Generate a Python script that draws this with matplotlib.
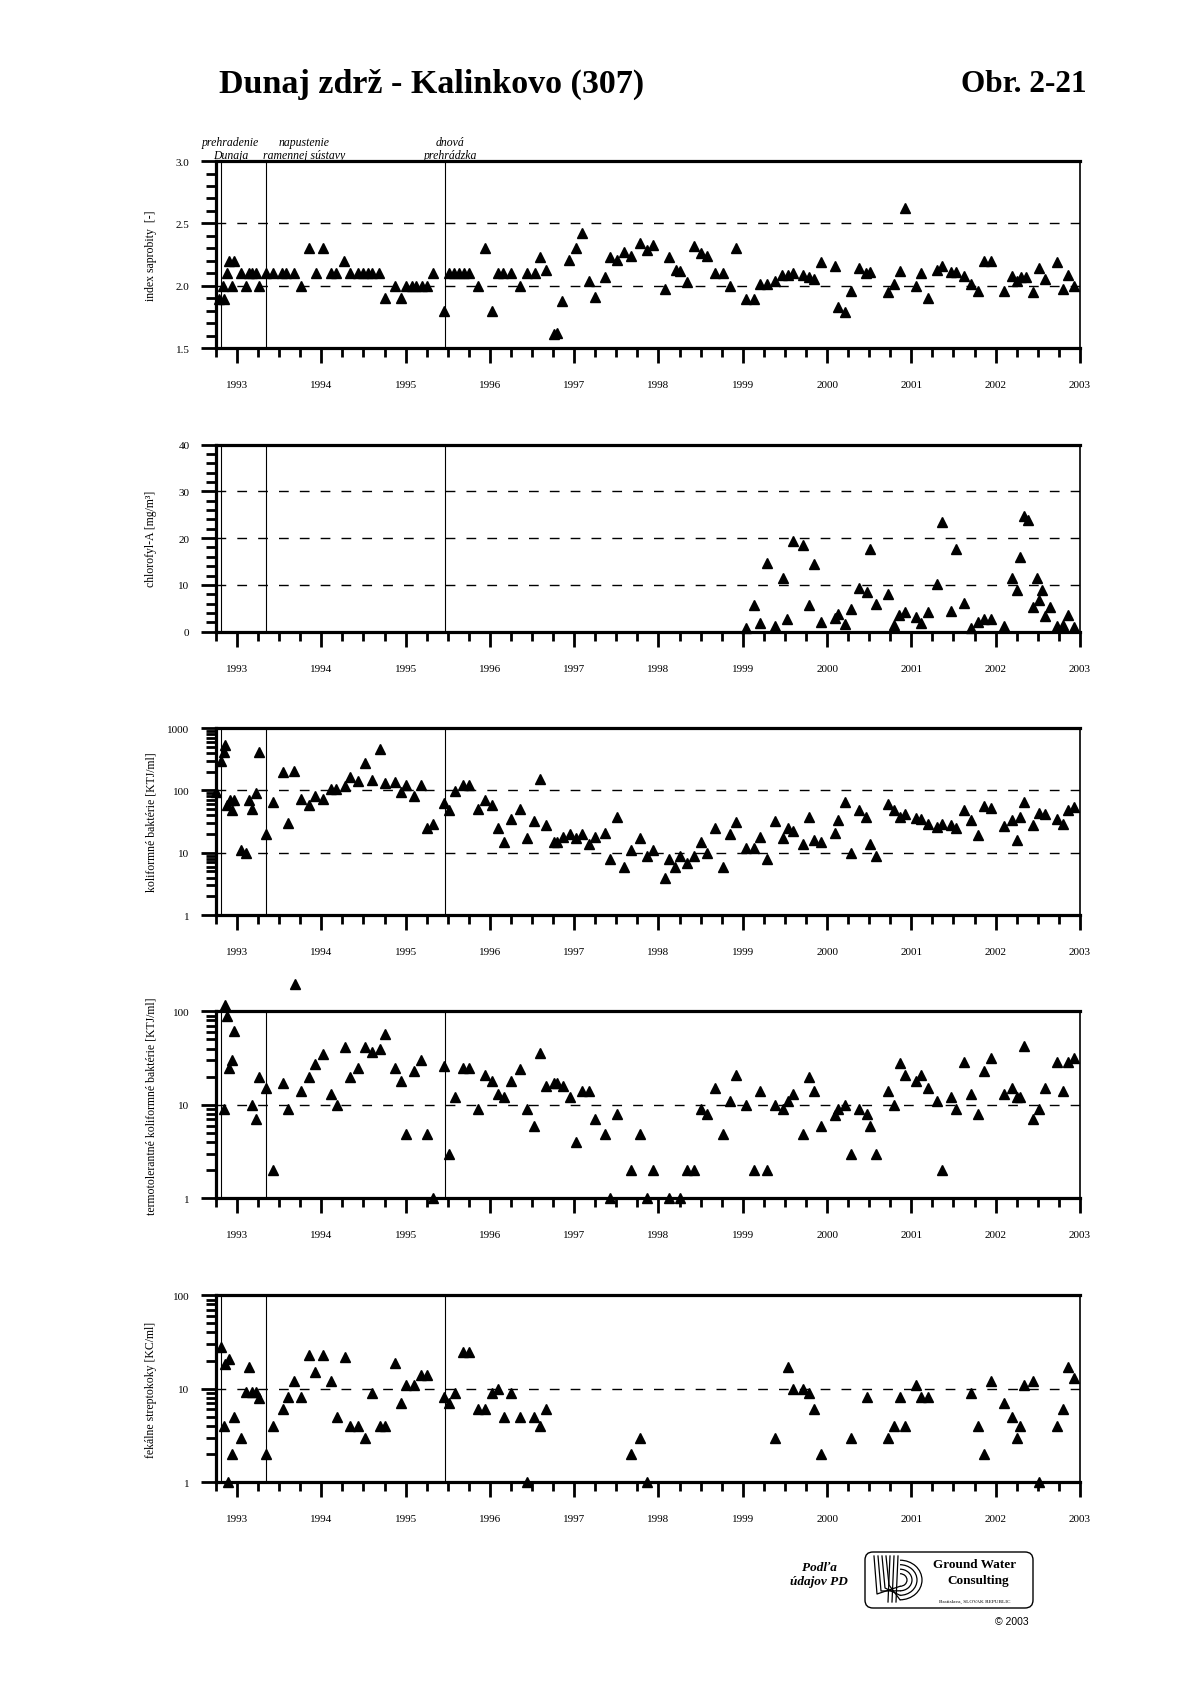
import matplotlib
matplotlib.use("Agg")
import matplotlib.pyplot as plt
from matplotlib.ticker import LogLocator, NullFormatter
from matplotlib.patches import FancyBboxPatch, Arc

plt.rcParams['font.family'] = ['Liberation Serif', 'DejaVu Serif']

# --- data (decimal years) -------------------------------------------------
years = list(range(1993, 2004))
events = [1992.81, 1993.34, 1995.47]
event_texts = ["prehradenie\nDunaja", "napustenie\nramennej sústavy", "dnová\nprehrádzka"]

sap_x = [1992.79, 1992.85, 1992.83, 1992.88, 1992.90, 1992.96, 1992.94, 1993.05, 1993.11, 1993.14,
         1993.18, 1993.23, 1993.26, 1993.34, 1993.43, 1993.53, 1993.58, 1993.68, 1993.76, 1993.85,
         1993.94, 1994.02, 1994.12, 1994.17, 1994.27, 1994.34, 1994.44, 1994.49, 1994.55, 1994.60,
         1994.68, 1994.75, 1994.87, 1994.94, 1995.00, 1995.07, 1995.12, 1995.19, 1995.25, 1995.33,
         1995.45, 1995.52, 1995.57, 1995.63, 1995.69, 1995.75, 1995.86, 1995.94, 1996.02, 1996.10,
         1996.15, 1996.25, 1996.36, 1996.44, 1996.53, 1996.59, 1996.67, 1996.76, 1996.80, 1996.86,
         1996.94, 1997.02, 1997.09, 1997.17, 1997.25, 1997.36, 1997.43, 1997.51, 1997.59, 1997.67,
         1997.78, 1997.86, 1997.94, 1998.08, 1998.13, 1998.21, 1998.26, 1998.34, 1998.42, 1998.50,
         1998.58, 1998.67, 1998.76, 1998.85, 1998.92, 1999.04, 1999.13, 1999.20, 1999.29, 1999.38,
         1999.47, 1999.54, 1999.60, 1999.72, 1999.78, 1999.84, 1999.93, 2000.09, 2000.13, 2000.21,
         2000.28, 2000.38, 2000.46, 2000.51, 2000.72, 2000.79, 2000.86, 2000.93, 2001.06, 2001.12,
         2001.20, 2001.30, 2001.36, 2001.47, 2001.53, 2001.62, 2001.71, 2001.79, 2001.86, 2001.95,
         2002.10, 2002.20, 2002.25, 2002.30, 2002.36, 2002.44, 2002.51, 2002.59, 2002.73, 2002.80,
         2002.86, 2002.93]
sap_y = [1.89, 1.89, 2.0, 2.1, 2.2, 2.2, 2.0, 2.1, 2.0, 2.1,
         2.1, 2.1, 2.0, 2.1, 2.1, 2.1, 2.1, 2.1, 2.0, 2.3,
         2.1, 2.3, 2.1, 2.1, 2.2, 2.1, 2.1, 2.1, 2.1, 2.1,
         2.1, 1.9, 2.0, 1.9, 2.0, 2.0, 2.0, 2.0, 2.0, 2.1,
         1.8, 2.1, 2.1, 2.1, 2.1, 2.1, 2.0, 2.3, 1.8, 2.1,
         2.1, 2.1, 2.0, 2.1, 2.1, 2.23, 2.13, 1.61, 1.62, 1.88,
         2.21, 2.3, 2.42, 2.04, 1.91, 2.07, 2.23, 2.21, 2.27, 2.24,
         2.34, 2.29, 2.33, 1.97, 2.23, 2.13, 2.12, 2.03, 2.32, 2.26,
         2.24, 2.1, 2.1, 2.0, 2.3, 1.89, 1.89, 2.01, 2.01, 2.04,
         2.09, 2.09, 2.1, 2.09, 2.07, 2.05, 2.19, 2.16, 1.83, 1.79,
         1.96, 2.14, 2.1, 2.11, 1.95, 2.01, 2.12, 2.62, 2.0, 2.1,
         1.9, 2.13, 2.16, 2.11, 2.11, 2.08, 2.01, 1.96, 2.2, 2.2,
         1.96, 2.08, 2.04, 2.07, 2.07, 1.95, 2.14, 2.05, 2.19, 1.97,
         2.09, 2.0]

chl_x = [1999.04, 1999.13, 1999.20, 1999.29, 1999.38, 1999.48, 1999.53, 1999.60, 1999.72, 1999.78,
         1999.84, 1999.93, 2000.09, 2000.13, 2000.21, 2000.28, 2000.38, 2000.47, 2000.51, 2000.58,
         2000.72, 2000.79, 2000.85, 2000.93, 2001.06, 2001.12, 2001.20, 2001.30, 2001.36, 2001.47,
         2001.53, 2001.62, 2001.71, 2001.79, 2001.86, 2001.95, 2002.10, 2002.20, 2002.25, 2002.29,
         2002.34, 2002.38, 2002.44, 2002.49, 2002.52, 2002.55, 2002.59, 2002.65, 2002.73, 2002.80,
         2002.86, 2002.93]
chl_y = [0.7, 5.7, 1.9, 14.7, 1.1, 11.5, 2.6, 19.4, 18.6, 5.8,
         14.5, 2.1, 2.9, 3.8, 1.6, 4.8, 9.3, 8.4, 17.7, 5.9,
         8.0, 1.4, 3.6, 4.1, 3.1, 1.9, 4.1, 10.2, 23.4, 4.5,
         17.7, 6.1, 0.7, 2.1, 2.7, 2.6, 1.1, 11.5, 8.9, 16.0,
         24.8, 23.9, 5.3, 11.5, 6.8, 8.9, 3.4, 5.2, 1.3, 1.4,
         3.6, 0.9]

kol_x = [1992.75, 1992.81, 1992.84, 1992.86, 1992.88, 1992.92, 1992.94, 1992.96, 1993.05, 1993.11,
         1993.14, 1993.18, 1993.22, 1993.26, 1993.34, 1993.43, 1993.54, 1993.61, 1993.68, 1993.76,
         1993.85, 1993.93, 1994.02, 1994.11, 1994.17, 1994.28, 1994.34, 1994.44, 1994.52, 1994.60,
         1994.69, 1994.75, 1994.87, 1994.94, 1995.00, 1995.10, 1995.18, 1995.25, 1995.33, 1995.45,
         1995.52, 1995.59, 1995.68, 1995.75, 1995.86, 1995.94, 1996.02, 1996.10, 1996.17, 1996.25,
         1996.36, 1996.44, 1996.52, 1996.59, 1996.67, 1996.76, 1996.80, 1996.87, 1996.95, 1997.02,
         1997.09, 1997.18, 1997.25, 1997.36, 1997.43, 1997.51, 1997.59, 1997.67, 1997.78, 1997.86,
         1997.94, 1998.08, 1998.13, 1998.20, 1998.26, 1998.34, 1998.42, 1998.50, 1998.58, 1998.67,
         1998.76, 1998.85, 1998.92, 1999.04, 1999.13, 1999.20, 1999.29, 1999.38, 1999.48, 1999.54,
         1999.60, 1999.72, 1999.78, 1999.84, 1999.93, 2000.09, 2000.13, 2000.21, 2000.28, 2000.38,
         2000.46, 2000.51, 2000.58, 2000.72, 2000.79, 2000.86, 2000.93, 2001.06, 2001.12, 2001.20,
         2001.30, 2001.36, 2001.47, 2001.53, 2001.62, 2001.71, 2001.79, 2001.86, 2001.95, 2002.10,
         2002.20, 2002.25, 2002.29, 2002.34, 2002.44, 2002.52, 2002.59, 2002.73, 2002.80, 2002.86,
         2002.93]
kol_y = [93, 297, 418, 537, 59, 71, 48, 71, 11, 9.9,
         71, 50, 90, 410, 20, 64, 200, 30, 208, 72,
         59, 81, 72, 105, 104, 119, 162, 144, 280, 145,
         464, 133, 138, 93, 122, 81, 122, 25, 29, 62,
         48, 99, 122, 122, 51, 71, 59, 25, 15, 35,
         51, 17, 32, 152, 28, 15, 15, 18, 20, 17,
         20, 14, 18, 21, 8, 37, 6, 11, 17, 8.8,
         11, 3.9, 8, 6, 8.9, 6.9, 9, 15, 10, 25,
         6, 20, 31, 12, 12, 18, 8, 32, 17, 25,
         22, 14, 38, 16, 15, 21, 33, 65, 10, 48,
         38, 14, 9, 60, 49, 37, 42, 36, 35, 29,
         26, 29, 28, 25, 48, 34, 19, 56, 53, 27,
         33, 16, 38, 65, 28, 44, 42, 35, 29, 49,
         55]

ter_x = [1992.84, 1992.86, 1992.88, 1992.90, 1992.94, 1992.96, 1993.18, 1993.22, 1993.26, 1993.34,
         1993.43, 1993.54, 1993.61, 1993.69, 1993.76, 1993.85, 1993.93, 1994.02, 1994.12, 1994.19,
         1994.28, 1994.34, 1994.44, 1994.52, 1994.60, 1994.69, 1994.75, 1994.87, 1994.94, 1995.00,
         1995.10, 1995.18, 1995.25, 1995.33, 1995.45, 1995.52, 1995.59, 1995.68, 1995.75, 1995.86,
         1995.94, 1996.02, 1996.10, 1996.17, 1996.25, 1996.36, 1996.44, 1996.52, 1996.59, 1996.67,
         1996.76, 1996.80, 1996.87, 1996.95, 1997.02, 1997.09, 1997.18, 1997.25, 1997.36, 1997.43,
         1997.51, 1997.67, 1997.78, 1997.86, 1997.94, 1998.13, 1998.26, 1998.34, 1998.42, 1998.50,
         1998.58, 1998.67, 1998.76, 1998.85, 1998.92, 1999.04, 1999.13, 1999.20, 1999.29, 1999.38,
         1999.48, 1999.54, 1999.60, 1999.72, 1999.78, 1999.84, 1999.93, 2000.09, 2000.13, 2000.21,
         2000.28, 2000.38, 2000.47, 2000.51, 2000.58, 2000.72, 2000.79, 2000.86, 2000.93, 2001.06,
         2001.12, 2001.20, 2001.30, 2001.36, 2001.47, 2001.53, 2001.62, 2001.71, 2001.79, 2001.86,
         2001.95, 2002.10, 2002.20, 2002.25, 2002.29, 2002.34, 2002.44, 2002.52, 2002.59, 2002.73,
         2002.80, 2002.86, 2002.93]
ter_y = [9, 118, 90, 25, 30, 61, 10, 7, 20, 15,
         2, 17, 9, 195, 14, 20, 27, 35, 13, 10,
         42, 20, 25, 42, 37, 40, 57, 25, 18, 4.9,
         23, 30, 4.9, 1, 26, 3, 12, 25, 25, 9,
         21, 18, 13, 12, 18, 24, 9, 6, 36, 16,
         17, 17, 16, 12, 4, 14, 14, 7, 4.9, 1,
         8, 2, 4.9, 1, 2, 1, 1, 2, 2, 9,
         8, 15, 4.9, 11, 21, 10, 2, 14, 2, 10,
         9, 11, 13, 4.9, 20, 14, 6, 7.8, 9, 10,
         3, 9, 8, 6, 3, 14, 10, 28, 21, 18,
         21, 15, 11, 2, 12, 9, 29, 13, 8, 23,
         32, 13, 15, 12, 12, 43, 7, 9, 15, 29,
         14, 29, 32]

fek_x = [1992.81, 1992.84, 1992.86, 1992.89, 1992.90, 1992.94, 1992.96, 1993.05, 1993.11, 1993.14,
         1993.18, 1993.22, 1993.26, 1993.34, 1993.43, 1993.54, 1993.61, 1993.68, 1993.76, 1993.85,
         1993.93, 1994.02, 1994.12, 1994.19, 1994.28, 1994.34, 1994.44, 1994.52, 1994.60, 1994.69,
         1994.75, 1994.87, 1994.94, 1995.00, 1995.10, 1995.18, 1995.25, 1995.45, 1995.52, 1995.59,
         1995.68, 1995.75, 1995.86, 1995.94, 1996.02, 1996.10, 1996.17, 1996.25, 1996.36, 1996.44,
         1996.52, 1996.59, 1996.67, 1997.67, 1997.78, 1997.86, 1999.38, 1999.54, 1999.60, 1999.72,
         1999.78, 1999.84, 1999.93, 2000.28, 2000.47, 2000.72, 2000.79, 2000.86, 2000.93, 2001.06,
         2001.12, 2001.20, 2001.71, 2001.79, 2001.86, 2001.95, 2002.10, 2002.20, 2002.25, 2002.29,
         2002.34, 2002.44, 2002.52, 2002.73, 2002.80, 2002.86, 2002.93]
fek_y = [28, 4, 18.5, 1, 21, 2, 5, 3, 9.2, 17,
         9.2, 9.2, 7.9, 2, 4, 6.1, 8.1, 12, 8.1, 23,
         15, 23, 12, 5, 22, 4, 4, 3, 9, 4,
         4, 19, 7.1, 11, 11, 14, 14, 8.1, 7.1, 9,
         25, 25, 6.1, 6.1, 9, 10, 5, 9, 5, 1,
         5, 4, 6.1, 2, 3, 1, 3, 17, 10, 10,
         9, 6.1, 2, 3, 8.1, 3, 4, 8.1, 4, 11,
         8.1, 8.1, 9, 4, 2, 12, 7.1, 5, 3, 4,
         11, 12, 1, 4, 6.1, 17, 13]

# --- figure ---------------------------------------------------------------
fig = plt.figure(figsize=(11.9, 16.83), dpi=100)

left, width, height = 0.1815, 0.726, 0.1111
bottoms = [0.7926, 0.6241, 0.4557, 0.2874, 0.1187]
dash = (0, (7, 8))


def setup_axis(ax, ylim, ylabel, yticks, yticklabels, grid, log=False, minor_step=None):
    if log:
        ax.set_yscale('log')
    ax.set_xlim(1992.75, 2003.0)
    ax.set_ylim(*ylim)
    ax.set_xticks(years)
    ax.set_xticklabels([str(y) for y in years])
    ax.set_xticks([y + q for y in range(1992, 2003) for q in (0.25, 0.5, 0.75)
                   if 1992.75 <= y + q <= 2003], minor=True)
    ax.set_yticks(yticks)
    ax.set_yticklabels(yticklabels)
    if log:
        ax.yaxis.set_minor_locator(LogLocator(base=10, subs=range(2, 10)))
        ax.yaxis.set_minor_formatter(NullFormatter())
    else:
        lo, hi = ylim
        n = int(round((hi - lo) / minor_step))
        ax.set_yticks([lo + i * minor_step for i in range(n + 1)], minor=True)
    ax.tick_params(axis='x', which='major', direction='out', length=11, width=2,
                   pad=12, labelsize=8)
    ax.tick_params(axis='x', which='minor', direction='out', length=6.5, width=2)
    ax.tick_params(axis='y', which='major', direction='out', length=11, width=2,
                   pad=8, labelsize=8)
    ax.tick_params(axis='y', which='minor', direction='out', length=7, width=2)
    for side in ('left', 'top', 'bottom'):
        ax.spines[side].set_linewidth(2.3)
    ax.spines['right'].set_linewidth(1.2)
    for g in grid:
        ax.axhline(g, color='k', lw=1, ls=dash, zorder=1)
    for e in events:
        ax.axvline(e, color='k', lw=0.8, zorder=2)
    ax.set_ylabel(ylabel, fontsize=8.5)
    ax.yaxis.set_label_coords(-0.068, 0.5)


ax1 = fig.add_axes([left, bottoms[0], width, height])
setup_axis(ax1, (1.5, 3.0), "index saprobity  [-]", [1.5, 2.0, 2.5, 3.0],
           ["1.5", "2.0", "2.5", "3.0"], [2.0, 2.5], minor_step=0.1)
ax1.plot(sap_x, sap_y, '^', color='k', ms=7.5, clip_on=False, zorder=5)

ax2 = fig.add_axes([left, bottoms[1], width, height])
setup_axis(ax2, (0, 40), "chlorofyl-A [mg/m³]", [0, 10, 20, 30, 40],
           ["0", "10", "20", "30", "40"], [10, 20, 30], minor_step=2)
ax2.plot(chl_x, chl_y, '^', color='k', ms=7.5, clip_on=False, zorder=5)

ax3 = fig.add_axes([left, bottoms[2], width, height])
setup_axis(ax3, (1, 1000), "koliformné baktérie [KTJ/ml]", [1, 10, 100, 1000],
           ["1", "10", "100", "1000"], [10, 100], log=True)
ax3.plot(kol_x, kol_y, '^', color='k', ms=7.5, clip_on=False, zorder=5)

ax4 = fig.add_axes([left, bottoms[3], width, height])
setup_axis(ax4, (1, 100), "termotolerantné koliformné baktérie [KTJ/ml]", [1, 10, 100],
           ["1", "10", "100"], [10], log=True)
ax4.plot(ter_x, ter_y, '^', color='k', ms=7.5, clip_on=False, zorder=5)

ax5 = fig.add_axes([left, bottoms[4], width, height])
setup_axis(ax5, (1, 100), "fekálne streptokoky [KC/ml]", [1, 10, 100],
           ["1", "10", "100"], [10], log=True)
ax5.plot(fek_x, fek_y, '^', color='k', ms=7.5, clip_on=False, zorder=5)

# event annotations above the first panel
text_x = [1992.92, 1993.79, 1995.53]
for tx, t in zip(text_x, event_texts):
    ax1.text(tx, 1.003, t, transform=ax1.get_xaxis_transform(), ha='center', va='bottom',
             fontsize=8.5, style='italic', linespacing=1.1)

# titles
fig.text(0.363, 0.950, "Dunaj zdrž - Kalinkovo (307)", ha='center', va='center',
         fontsize=24.5, weight='bold')
fig.text(0.9134, 0.950, "Obr. 2-21", ha='right', va='center', fontsize=22.5, weight='bold')

# footer: source note and logo
fig.text(819 / 1190, 1 - 1575 / 1683, "Podľa\núdajov PD", ha='center', va='center',
         fontsize=9.5, style='italic', weight='bold', linespacing=1.3)

lg = fig.add_axes([860 / 1190, 1 - 1615 / 1683, 180 / 1190, 70 / 1683])
lg.set_xlim(0, 180)
lg.set_ylim(70, 0)
lg.axis('off')
lg.add_patch(FancyBboxPatch((5, 8), 168, 56, boxstyle="round,pad=0,rounding_size=8",
                            fc='white', ec='k', lw=1))
for i in range(4):
    r = 7 + 5 * i
    lg.add_patch(Arc((40, 36), 2 * r, 2 * r * 0.9, theta1=-90, theta2=90, lw=0.9, color='k'))
    lg.plot([14 + 4 * i, 14 + 4 * i + 3, 40], [12, 50 - 3 * i, 36 + r * 0.9], color='k', lw=0.9)
for i in range(3):
    lg.plot([30 + 4 * i, 28 + 4 * i], [12, 58], color='k', lw=0.9)
lg.text(115, 20, "Ground Water", ha='center', va='center', fontsize=9.5, weight='bold')
lg.text(118, 36, "Consulting", ha='center', va='center', fontsize=9.5, weight='bold')
lg.text(115, 57, "Bratislava, SLOVAK REPUBLIC", ha='center', va='center', fontsize=3.8)
fig.text(1012 / 1190, 1 - 1622 / 1683, "© 2003", ha='center', va='center',
         fontsize=7.5, family=['Liberation Sans', 'DejaVu Sans'])

fig.savefig("out.png", dpi=100)
